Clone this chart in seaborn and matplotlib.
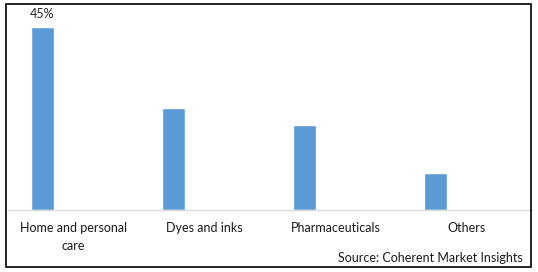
import matplotlib
matplotlib.use("Agg")
import matplotlib.pyplot as plt
import seaborn as sns
import numpy as np
from matplotlib.patches import Rectangle

categories = ["Home and personal\ncare", "Dyes and inks", "Pharmaceuticals", "Others"]
values = [45, 25, 21, 9]
label_text = ["45%", "", "", ""]
source = "Source: Coherent Market Insights"

sns.set_theme(style="white")
plt.rcParams['font.family'] = ['Lato', 'DejaVu Sans']

W, H = 538, 272
fig = plt.figure(figsize=(W / 100, H / 100), dpi=100)
# axes: plot area x 8..532, y 10..210 (pixels from top)
ax = fig.add_axes([8 / W, (H - 210) / H, 524 / W, 200 / H])

sns.barplot(x=categories, y=values, color="#5b9bd5", saturation=1, width=0.176, ax=ax)

ax.set_xlim(-0.263, 3.737)
ax.set_ylim(0, 45 * 200 / 183)
ax.set_xticks(np.arange(len(categories)) + 0.237)
ax.set_xticklabels(categories, fontsize=9, color="#1a1a1a", linespacing=1.6)
ax.tick_params(axis="x", length=0, pad=9)
ax.set_yticks([])
ax.set_xlabel("")
ax.set_ylabel("")
for s in ["left", "right", "top"]:
    ax.spines[s].set_visible(False)
ax.spines["bottom"].set_color("#d9d9d9")
ax.spines["bottom"].set_linewidth(1)

for i, (v, t) in enumerate(zip(values, label_text)):
    if t:
        ax.annotate(t, (i, v), xytext=(0, 5), textcoords="offset points",
                    ha="center", va="bottom", fontsize=9, color="#262626")

fig.text(523 / W, 1 - 258 / H, source, ha="right", va="center", fontsize=9, color="#1a1a1a")

fig.patches.append(Rectangle((6 / W, 1 - 267 / H), 525 / W, 263 / H, transform=fig.transFigure,
                             fill=False, edgecolor="black", linewidth=1.2))

fig.savefig("out.png", dpi=100)
